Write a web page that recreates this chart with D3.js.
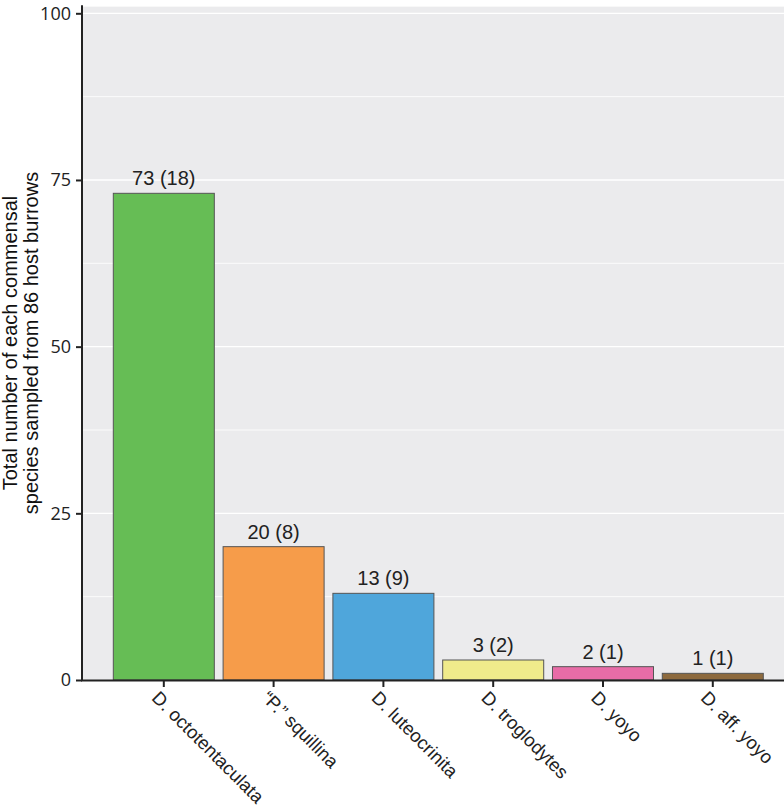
<!DOCTYPE html>
<html>
<head>
<meta charset="utf-8">
<script src="https://cdn.jsdelivr.net/npm/d3@7"></script>
<style>
  body { margin: 0; background: #fff; }
  svg { display: block; font-family: "Liberation Sans", Arial, sans-serif; }
</style>
</head>
<body>
<svg id="chart"></svg>
<script>
// commensal species counts (number of burrows in brackets)
const species = ["D. octotentaculata", "\u201cP.\u201d squillina", "D. luteocrinita", "D. troglodytes", "D. yoyo", "D. aff. yoyo"];
const totals = [73, 20, 13, 3, 2, 1];
const burrows = [18, 8, 9, 2, 1, 1];
const colors = ["#66bd55", "#f69c4a", "#4fa6db", "#f0eb8b", "#e86ca7", "#8d6a3e"];
const yTicks = [0, 25, 50, 75, 100];
const yMinor = [12.5, 37.5, 62.5, 87.5];

const width = 784;
const height = 808;

const svg = d3.select("#chart")
  .attr("width", width)
  .attr("height", height);

const left = 83;
const x = d3.scaleBand()
  .domain(species)
  .range([left, 793.6])
  .paddingInner(0.08)
  .paddingOuter(0.276);

const y = d3.scaleLinear()
  .domain([0, 100])
  .range([680, 13.3]);

// panel background
svg.append("rect")
  .attr("x", left)
  .attr("y", y(101))
  .attr("width", width - left)
  .attr("height", y(0) - y(101))
  .attr("fill", "#ebebed");

// gridlines
svg.selectAll(".minor")
  .data(yMinor)
  .enter()
  .append("line")
  .attr("x1", left).attr("x2", width)
  .attr("y1", d => y(d)).attr("y2", d => y(d))
  .attr("stroke", "#fff")
  .attr("stroke-width", 0.8);

svg.selectAll(".major")
  .data(yTicks.slice(1))
  .enter()
  .append("line")
  .attr("x1", left).attr("x2", width)
  .attr("y1", d => y(d)).attr("y2", d => y(d))
  .attr("stroke", "#fff")
  .attr("stroke-width", 1.3);

const data = species.map((s, i) => ({ name: s, total: totals[i], n: burrows[i], color: colors[i] }));

svg.selectAll(".bar")
  .data(data)
  .enter()
  .append("rect")
  .attr("class", "bar")
  .attr("x", d => x(d.name))
  .attr("y", d => y(d.total))
  .attr("width", x.bandwidth())
  .attr("height", d => y(0) - y(d.total))
  .attr("fill", d => d.color)
  .attr("stroke", "#555")
  .attr("stroke-width", 1);

svg.selectAll(".bar-label")
  .data(data)
  .enter()
  .append("text")
  .attr("class", "bar-label")
  .attr("x", d => x(d.name) + x.bandwidth() / 2)
  .attr("y", d => y(d.total) - 8)
  .attr("text-anchor", "middle")
  .attr("font-size", 20)
  .attr("fill", "#222")
  .text(d => `${d.total} (${d.n})`);

// axes
const yAxis = svg.append("g")
  .attr("transform", `translate(${left - 1},0)`)
  .call(d3.axisLeft(y).tickValues(yTicks).tickSize(6).tickPadding(5));
yAxis.select(".domain").remove();
yAxis.selectAll("line").attr("stroke", "#222").attr("stroke-width", 2);
yAxis.selectAll("text").attr("font-size", 18).attr("fill", "#222")
  .attr("font-family", "'Open Sans', 'DejaVu Sans', sans-serif");

const xAxis = svg.append("g")
  .attr("transform", `translate(0,${y(0)})`)
  .call(d3.axisBottom(x).tickSize(7).tickPadding(0));
xAxis.select(".domain").remove();
xAxis.selectAll("line").attr("stroke", "#222").attr("stroke-width", 2);
xAxis.selectAll("text")
  .attr("font-size", 18.5)
  .attr("fill", "#222")
  .attr("text-anchor", "start")
  .attr("dy", 0)
  .attr("transform", "translate(-13,19) rotate(45)")
  .attr("y", 0)
  .attr("x", 0);

// axis lines
svg.append("line")
  .attr("x1", left - 1).attr("x2", left - 1)
  .attr("y1", y(101.2)).attr("y2", y(0) + 1)
  .attr("stroke", "#222").attr("stroke-width", 2);
svg.append("line")
  .attr("x1", left - 2).attr("x2", width)
  .attr("y1", y(0) + 0.5).attr("y2", y(0) + 0.5)
  .attr("stroke", "#222").attr("stroke-width", 2);

// y title
const title = svg.append("text")
  .attr("transform", `translate(0,343) rotate(-90)`)
  .attr("text-anchor", "middle")
  .attr("font-size", 20)
  .attr("fill", "#111");
title.append("tspan").attr("x", 0).attr("y", 16.5).text("Total number of each commensal");
title.append("tspan").attr("x", 0).attr("y", 38).text("species sampled from 86 host burrows");
</script>
</body>
</html>
